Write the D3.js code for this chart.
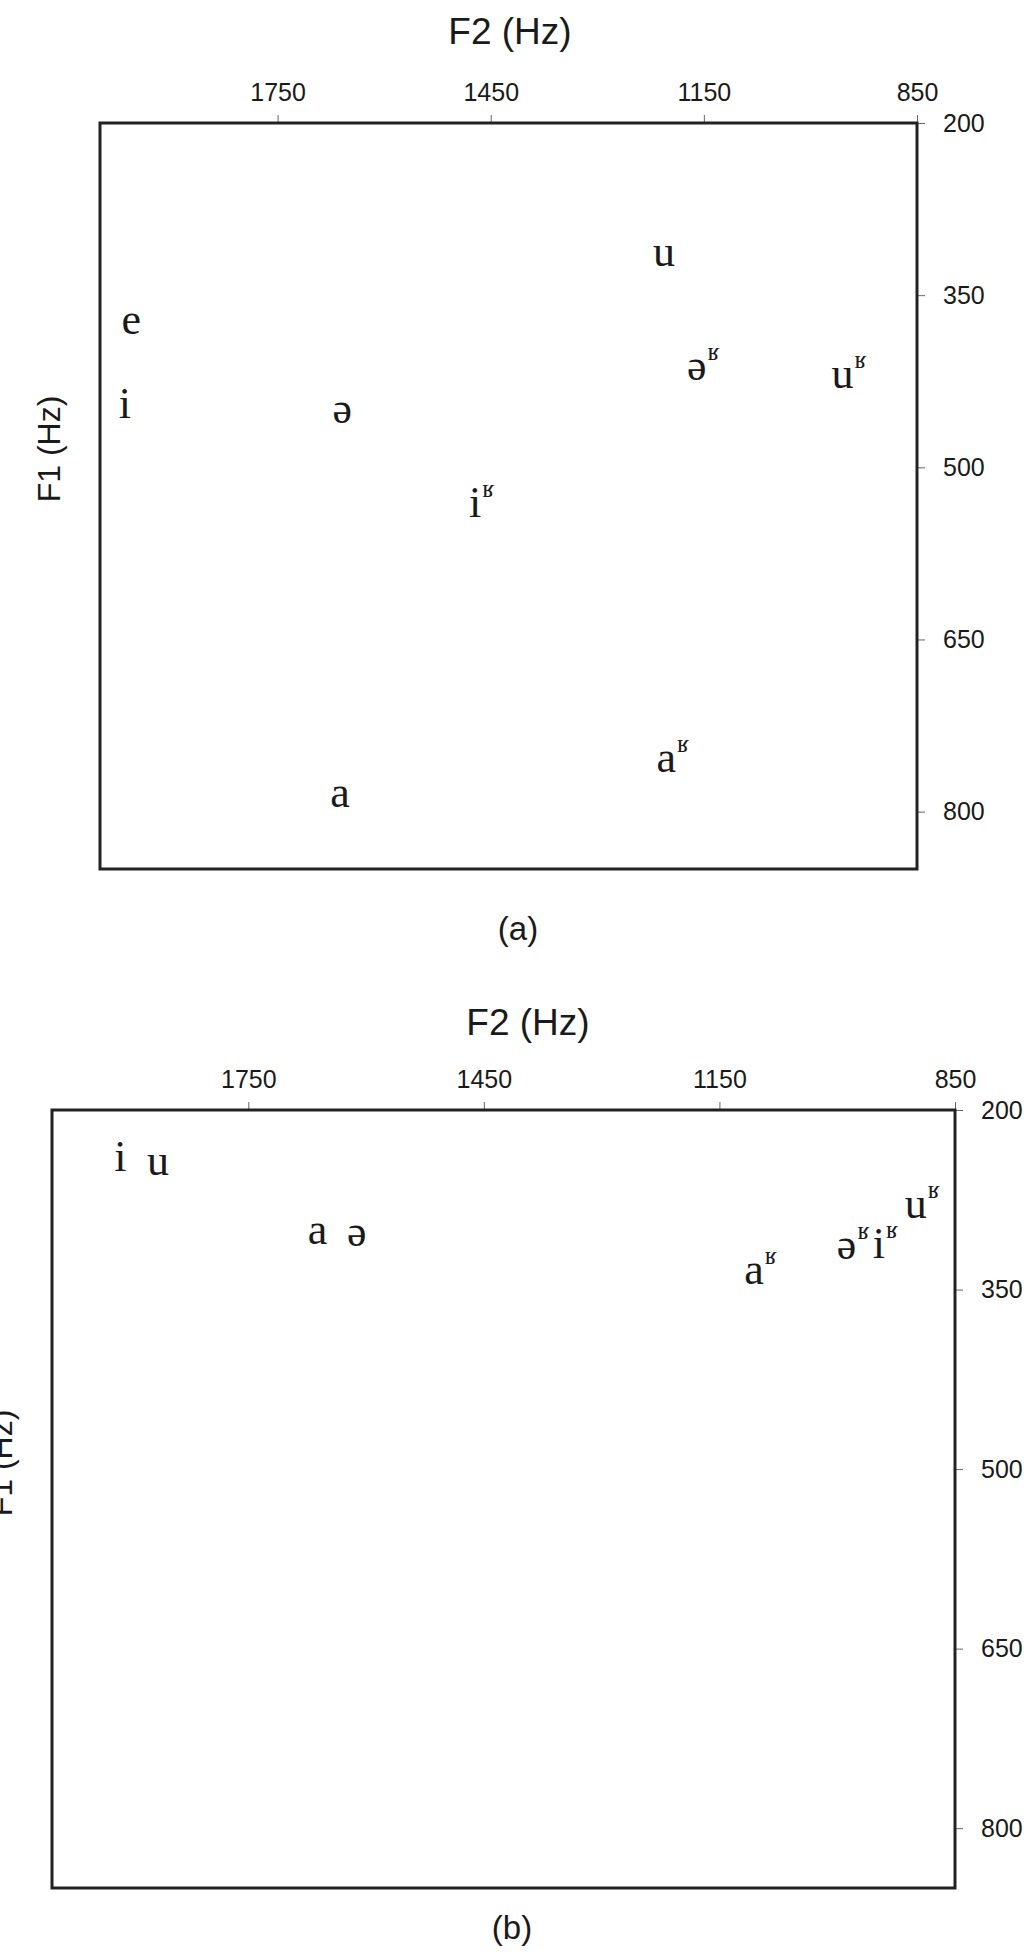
<!DOCTYPE html>
<html>
<head>
<meta charset="utf-8">
<script src="https://cdnjs.cloudflare.com/ajax/libs/d3/7.8.5/d3.min.js"></script>
<style>
  body { margin: 0; background: #fff; }
  svg { display: block; }
</style>
</head>
<body>
<svg id="chart" width="1030" height="1957"></svg>
<script>
;(function (window, document, undefined) {

  'use strict';

  // axis ticks and ranges (F2 runs right-to-left, F1 top-to-bottom)
  var f2Ticks = [1750, 1450, 1150, 850];
  var f1Ticks = [200, 350, 500, 650, 800];
  var f2Range = [2000, 850];
  var f1Range = [200, 850];

  // panel (a)
  var vowelsA = ['e', 'i', 'ə', 'u', 'əʁ', 'uʁ', 'iʁ', 'aʁ', 'a'];
  var f2A = [1956, 1965, 1659, 1206, 1160, 955, 1472, 1203, 1662];
  var f1A = [375, 448, 453, 316, 415, 422, 535, 757, 787];

  // panel (b)
  var vowelsB = ['i', 'u', 'a', 'ə', 'aʁ', 'əʁ', 'iʁ', 'uʁ'];
  var f2B = [1913, 1865, 1662, 1612, 1106, 988, 947, 900];
  var f1B = [243, 246, 304, 305, 337, 316, 315, 282];

  var SANS = '"Liberation Sans", Arial, Helvetica, sans-serif';
  var SERIF = '"Liberation Serif", "DejaVu Serif", "Times New Roman", serif';

  var panels = [
    { vowels: vowelsA, f2: f2A, f1: f1A,
      left: 100, right: 917, top: 123, bottom: 869,
      titleX: 510, titleY: 34, captionX: 518, captionY: 931,
      f1LabelY: 449, caption: '(a)' },
    { vowels: vowelsB, f2: f2B, f1: f1B,
      left: 52, right: 955, top: 1110, bottom: 1888,
      titleX: 528, titleY: 1025, captionX: 512, captionY: 1930,
      f1LabelY: 1463, caption: '(b)' }
  ];

  var svg = d3.select('#chart');

  var styleAxis = function (sel) {
    sel.select('.domain').remove();
    sel.selectAll('.tick line').attr('stroke', '#666').attr('stroke-width', 1);
    sel.selectAll('.tick text')
      .attr('fill', '#1a1a1a')
      .style('font-family', SANS)
      .style('font-size', '25px');
  };

  var drawPanel = function (p) {
    var x = d3.scaleLinear().domain(f2Range).range([p.left, p.right]);
    var y = d3.scaleLinear().domain(f1Range).range([p.top, p.bottom]);
    var g = svg.append('g');

    g.append('g')
      .attr('transform', 'translate(0,' + p.top + ')')
      .call(d3.axisTop(x).tickValues(f2Ticks).tickSize(8).tickPadding(14)
        .tickFormat(d3.format('d')))
      .call(styleAxis);

    g.append('g')
      .attr('transform', 'translate(' + p.right + ',0)')
      .call(d3.axisRight(y).tickValues(f1Ticks).tickSize(8).tickPadding(18)
        .tickFormat(d3.format('d')))
      .call(styleAxis);

    g.append('rect')
      .attr('x', p.left)
      .attr('y', p.top)
      .attr('width', p.right - p.left)
      .attr('height', p.bottom - p.top)
      .attr('fill', 'none')
      .attr('stroke', '#222')
      .attr('stroke-width', 3);

    g.append('text')
      .attr('x', p.titleX)
      .attr('y', p.titleY)
      .attr('text-anchor', 'middle')
      .attr('dominant-baseline', 'middle')
      .attr('fill', '#1a1a1a')
      .style('font-family', SANS)
      .style('font-size', '37px')
      .text('F2 (Hz)');

    // the F1 title of panel (b) sits partly off the left edge, as in the source
    g.append('text')
      .attr('transform', 'translate(' + (p.left - 40) + ',' + p.f1LabelY + ') rotate(-90)')
      .attr('text-anchor', 'middle')
      .attr('fill', '#1a1a1a')
      .style('font-family', SANS)
      .style('font-size', '32px')
      .text('F1 (Hz)');

    g.append('text')
      .attr('x', p.captionX)
      .attr('y', p.captionY)
      .attr('text-anchor', 'middle')
      .attr('dominant-baseline', 'middle')
      .attr('fill', '#1a1a1a')
      .style('font-family', SANS)
      .style('font-size', '33px')
      .text(p.caption);

    // vowel symbols: base letter centred on the point, rhotic mark raised after it
    p.vowels.forEach(function (v, i) {
      var px = x(p.f2[i]);
      var py = y(p.f1[i]) + 10;
      var base = g.append('text')
        .attr('x', px)
        .attr('y', py)
        .attr('text-anchor', 'middle')
        .attr('fill', '#1a1a1a')
        .style('font-family', SERIF)
        .style('font-size', '44px')
        .text(v.charAt(0));
      var sup = v.slice(1);
      if (sup) {
        var w = base.node().getComputedTextLength();
        g.append('text')
          .attr('x', px + w / 2 + 1)
          .attr('y', py - 20)
          .attr('fill', '#1a1a1a')
          .style('font-family', SERIF)
          .style('font-size', '25px')
          .text(sup);
      }
    });
  };

  panels.forEach(drawPanel);

})(window, document);
</script>
</body>
</html>
